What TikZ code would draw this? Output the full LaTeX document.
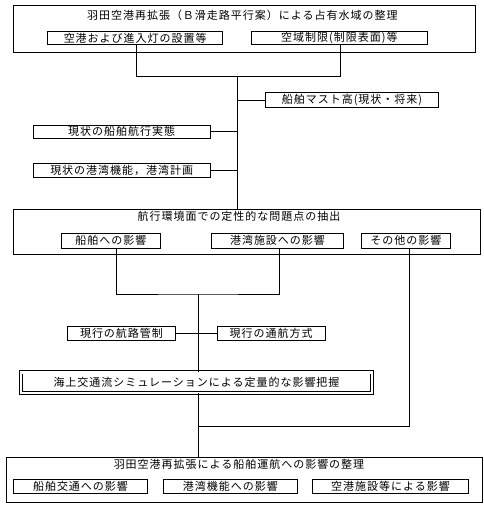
\documentclass[tikz,border=0pt]{standalone}
\usepackage{fontspec}
\newfontfamily\jp{Noto Sans CJK JP}[LetterSpace=9]
\begin{document}
\begin{tikzpicture}[x=1pt,y=-1pt,line width=0.9pt,
  box/.style={draw, rectangle, inner sep=0pt, font=\jp\fontsize{11}{13}\selectfont},
  lbl/.style={inner sep=0pt, font=\jp\fontsize{11}{13}\selectfont},
  dbox/.style={box, double, double distance=2.2pt}]
\useasboundingbox (0,0) rectangle (484,512);
% section 1
\node[box, minimum width=461.7pt, minimum height=47.7pt] (T) at (244.2,28.9) {};
\node[lbl] (tT) at (242.3,15.7) {羽田空港再拡張（Ｂ滑走路平行案）による占有水域の整理};
\node[box, minimum width=175pt, minimum height=12.6pt] (a1) at (135.2,38) {空港および進入灯の設置等};
\node[box, minimum width=176.7pt, minimum height=12.6pt] (a2) at (339.4,38) {空域制限(制限表面)等};
\coordinate (j1) at (237.3,76.7);
\node[box, minimum width=172.6pt, minimum height=14.6pt] (m) at (352,100) {船舶マスト高(現状・将来)};
\node[box, minimum width=176.7pt, minimum height=13.3pt] (s1) at (121.7,131.7) {現状の船舶航行実態};
\node[box, minimum width=176.7pt, minimum height=14pt] (s2) at (121.7,170) {現状の港湾機能，港湾計画};
% section 2
\node[box, minimum width=466.7pt, minimum height=45pt] (B) at (246.7,231.8) {};
\node[lbl] (tB) at (239,216.7) {航行環境面での定性的な問題点の抽出};
\node[box, minimum width=98.3pt, minimum height=15pt] (b1) at (110.8,240.5) {船舶への影響};
\node[box, minimum width=131.6pt, minimum height=15pt] (b2) at (277.5,240.5) {港湾施設への影響};
\node[box, minimum width=88.3pt, minimum height=15pt] (b3) at (405.8,240.5) {その他の影響};
\coordinate (j2) at (198.3,294);
\node[box, minimum width=108.4pt, minimum height=14.7pt] (c1) at (121.5,333.4) {現行の航路管制};
\node[box, minimum width=107.7pt, minimum height=14.7pt] (c2) at (271.2,333.4) {現行の通航方式};
\node[dbox, minimum width=350.5pt, minimum height=20.5pt] (D) at (196.5,382.7) {海上交通流シミュレーションによる定量的な影響把握};
\coordinate (r) at (409.3,426);
% section 3
\node[box, minimum width=476pt, minimum height=45pt] (E) at (244.7,479.8) {};
\node[lbl] (tE) at (239,464.5) {羽田空港再拡張による船舶運航への影響の整理};
\node[box, minimum width=134.4pt, minimum height=14pt] (e1) at (80.5,486.5) {船舶交通への影響};
\node[box, minimum width=134pt, minimum height=14pt] (e2) at (230.3,486.5) {港湾機能への影響};
\node[box, minimum width=155.6pt, minimum height=14pt] (e3) at (390.5,486.5) {空港施設等による影響};
% connectors
\draw ([xshift=1.5pt]a1.south) |- (j1) -| ([xshift=1.3pt]a2.south);
\draw (j1) -- (j1 |- B.north);
\draw (m.west) -- (m.west -| j1);
\draw (s1.east) -- (s1.east -| j1);
\draw (s2.east) -- (s2.east -| j1);
\draw ([xshift=5.9pt]b1.south) |- (j2) -| ([xshift=1.5pt]b2.south);
\draw (j2) -- (j2 |- D.north);
\draw (c1.east) -- (c2.west);
\draw ([xshift=3.5pt]b3.south) |- (j2 |- r);
\draw (j2 |- D.south) -- (j2 |- E.north);
\end{tikzpicture}
\end{document}
